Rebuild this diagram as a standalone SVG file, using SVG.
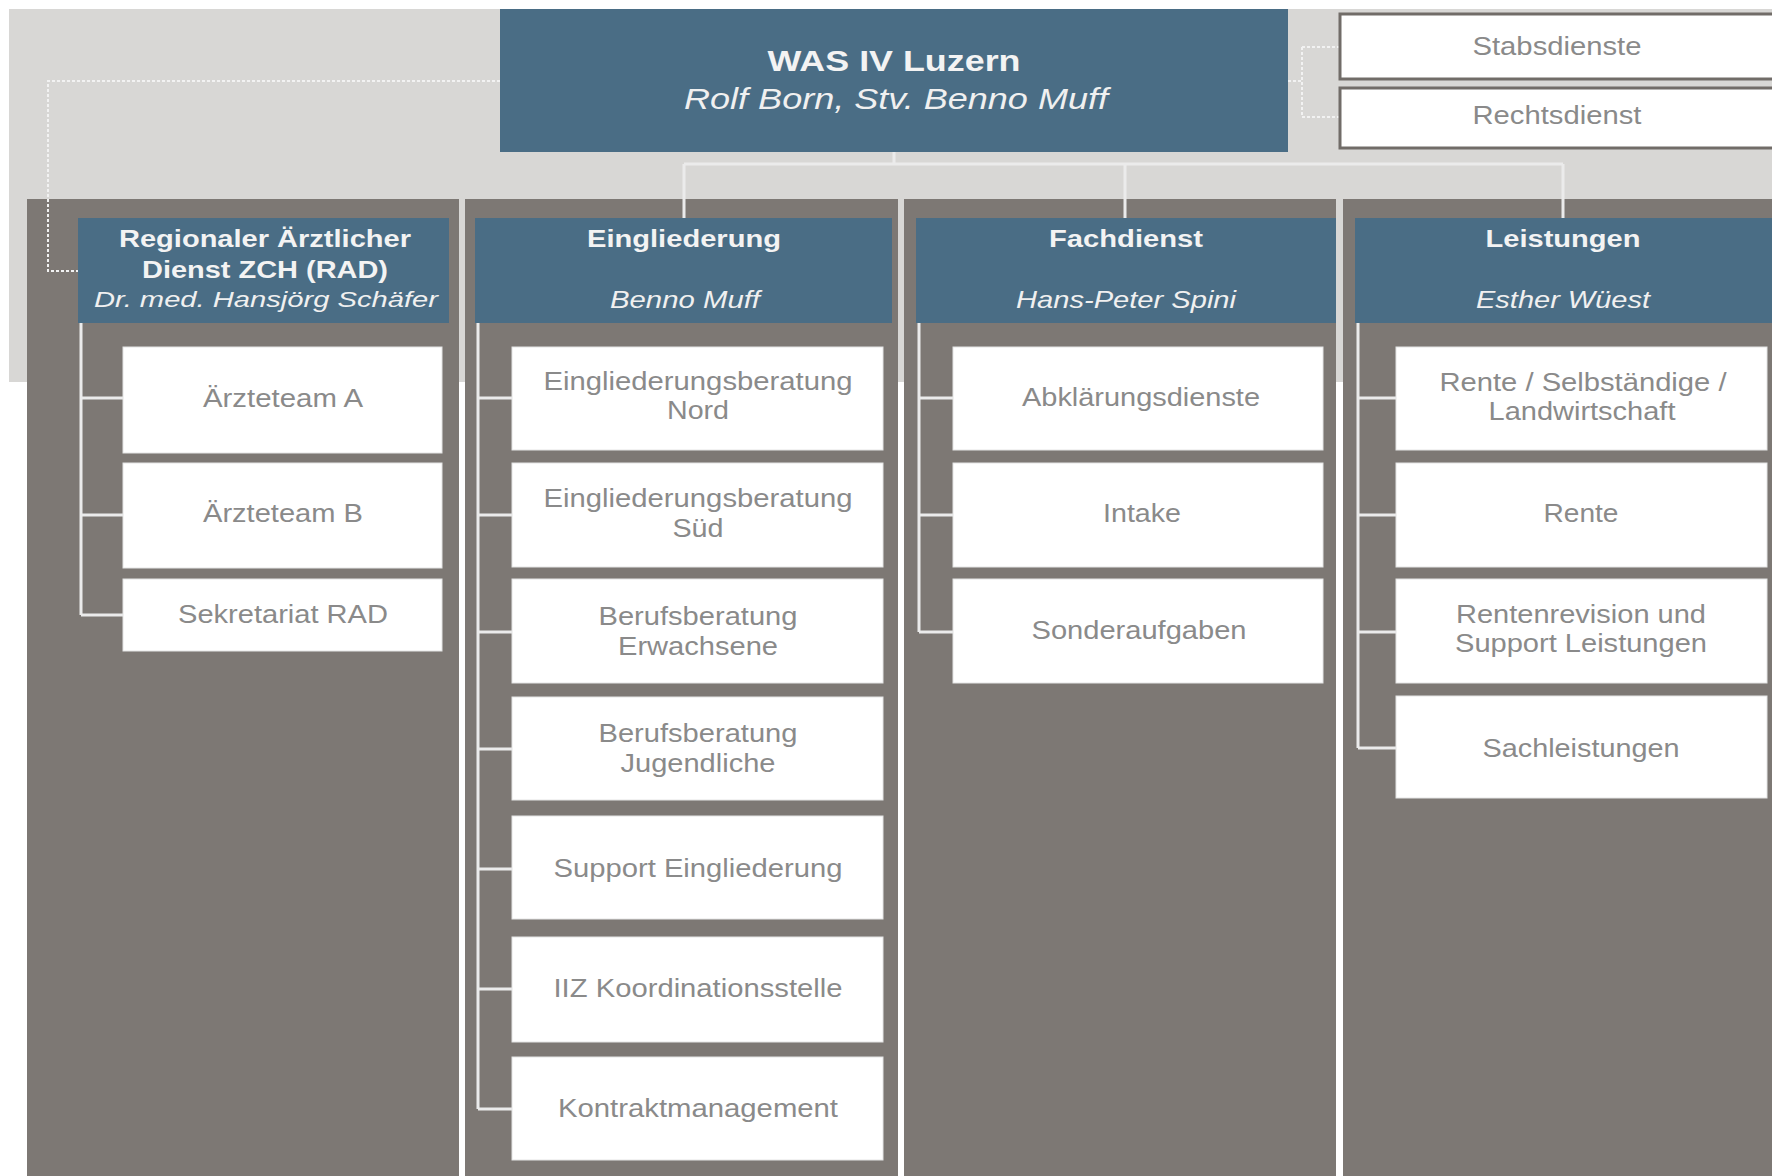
<svg xmlns="http://www.w3.org/2000/svg" width="1772" height="1176" viewBox="0 0 1772 1176">
<style>
.bg{fill:#d8d7d5}
.col{fill:#7d7874}
.hdr{fill:#4a6d85}
.box{fill:#ffffff;stroke:#e4e4e4;stroke-width:1}
.sbox{fill:#ffffff;stroke:#716c68;stroke-width:3}
text{font-family:"Liberation Sans",Arial,sans-serif;text-anchor:middle}
.t{font-size:25px;fill:#8a8a8a}
.h{font-size:24px;font-weight:bold;fill:#f3f3f3}
.hi{font-size:24px;font-style:italic;fill:#f0f0f0}
.ln{stroke:#ebebeb;stroke-width:3;fill:none}
.dot{stroke:#f2f2f2;stroke-width:2;stroke-dasharray:3 2;fill:none}
</style>
<rect x="0" y="0" width="1772" height="1176" fill="#ffffff"/>
<rect class="bg" x="9" y="9" width="1763" height="373"/>
<g id="columns">
<rect class="col" x="27" y="199" width="432" height="977"/>
<rect class="col" x="465" y="199" width="433" height="977"/>
<rect class="col" x="904" y="199" width="432" height="977"/>
<rect class="col" x="1343" y="199" width="429" height="977"/>
</g>
<g id="connectors">
<path class="ln" d="M894 152 V164 M684 164 H1563 M684 164 V218 M1125 164 V218 M1563 164 V218"/>
<path class="dot" d="M500 81 H48 V271 H78"/>
<path class="dot" d="M1288 81 H1302 M1302 47 V117 M1302 47 H1339 M1302 117 H1339"/>
<path class="ln" d="M81 323 V615 M81 398 H123 M81 515 H123 M81 615 H123"/>
<path class="ln" d="M478 323 V1109 M478 398 H512 M478 515 H512 M478 632 H512 M478 749 H512 M478 869 H512 M478 989 H512 M478 1109 H512"/>
<path class="ln" d="M919 323 V632 M919 398 H953 M919 515 H953 M919 632 H953"/>
<path class="ln" d="M1358 323 V748 M1358 398 H1396 M1358 515 H1396 M1358 632 H1396 M1358 748 H1396"/>
</g>
<g id="was-iv-luzern">
<rect class="hdr" x="500" y="9" width="788" height="143"/>
<text class="h" x="894" y="71" style="font-size:30px" textLength="253" lengthAdjust="spacingAndGlyphs">WAS IV Luzern</text>
<text class="hi" x="896" y="109" style="font-size:30px" textLength="424" lengthAdjust="spacingAndGlyphs">Rolf Born, Stv. Benno Muff</text>
</g>
<g id="stabsdienste">
<rect class="sbox" x="1340" y="14" width="440" height="65"/>
<text class="t" x="1557" y="55" textLength="169" lengthAdjust="spacingAndGlyphs">Stabsdienste</text>
</g>
<g id="rechtsdienst">
<rect class="sbox" x="1340" y="88" width="440" height="60"/>
<text class="t" x="1557" y="124" textLength="169" lengthAdjust="spacingAndGlyphs">Rechtsdienst</text>
</g>
<g id="rad">
<rect class="hdr" x="78" y="218" width="371" height="105"/>
<text class="h" x="265" y="247" textLength="292" lengthAdjust="spacingAndGlyphs">Regionaler Ärztlicher</text>
<text class="h" x="265" y="278" textLength="246" lengthAdjust="spacingAndGlyphs">Dienst ZCH (RAD)</text>
<text class="hi" x="266" y="307" style="font-size:22px" textLength="344" lengthAdjust="spacingAndGlyphs">Dr. med. Hansjörg Schäfer</text>
</g>
<g id="eingliederung">
<rect class="hdr" x="475" y="218" width="417" height="105"/>
<text class="h" x="684" y="247" textLength="194" lengthAdjust="spacingAndGlyphs">Eingliederung</text>
<text class="hi" x="685" y="308" textLength="150" lengthAdjust="spacingAndGlyphs">Benno Muff</text>
</g>
<g id="fachdienst">
<rect class="hdr" x="916" y="218" width="420" height="105"/>
<text class="h" x="1126" y="247" textLength="154" lengthAdjust="spacingAndGlyphs">Fachdienst</text>
<text class="hi" x="1126" y="308" textLength="220" lengthAdjust="spacingAndGlyphs">Hans-Peter Spini</text>
</g>
<g id="leistungen">
<rect class="hdr" x="1355" y="218" width="417" height="105"/>
<text class="h" x="1563" y="247" textLength="155" lengthAdjust="spacingAndGlyphs">Leistungen</text>
<text class="hi" x="1563" y="308" textLength="174" lengthAdjust="spacingAndGlyphs">Esther Wüest</text>
</g>
<g id="aerzteteam-a"><rect class="box" x="123" y="347" width="319" height="106"/><text class="t" x="283" y="407" textLength="160" lengthAdjust="spacingAndGlyphs">Ärzteteam A</text></g>
<g id="aerzteteam-b"><rect class="box" x="123" y="463" width="319" height="105"/><text class="t" x="283" y="522" textLength="160" lengthAdjust="spacingAndGlyphs">Ärzteteam B</text></g>
<g id="sekretariat-rad"><rect class="box" x="123" y="579" width="319" height="72"/><text class="t" x="283" y="623" textLength="210" lengthAdjust="spacingAndGlyphs">Sekretariat RAD</text></g>
<g id="eb-nord"><rect class="box" x="512" y="347" width="371" height="103"/><text class="t" x="698" y="390" textLength="309" lengthAdjust="spacingAndGlyphs">Eingliederungsberatung</text><text class="t" x="698" y="419" textLength="62" lengthAdjust="spacingAndGlyphs">Nord</text></g>
<g id="eb-sued"><rect class="box" x="512" y="463" width="371" height="104"/><text class="t" x="698" y="507" textLength="309" lengthAdjust="spacingAndGlyphs">Eingliederungsberatung</text><text class="t" x="698" y="537" textLength="51" lengthAdjust="spacingAndGlyphs">Süd</text></g>
<g id="bb-erwachsene"><rect class="box" x="512" y="579" width="371" height="104"/><text class="t" x="698" y="625" textLength="199" lengthAdjust="spacingAndGlyphs">Berufsberatung</text><text class="t" x="698" y="655" textLength="160" lengthAdjust="spacingAndGlyphs">Erwachsene</text></g>
<g id="bb-jugendliche"><rect class="box" x="512" y="697" width="371" height="103"/><text class="t" x="698" y="742" textLength="199" lengthAdjust="spacingAndGlyphs">Berufsberatung</text><text class="t" x="698" y="772" textLength="155" lengthAdjust="spacingAndGlyphs">Jugendliche</text></g>
<g id="support-eingliederung"><rect class="box" x="512" y="816" width="371" height="103"/><text class="t" x="698" y="877" textLength="289" lengthAdjust="spacingAndGlyphs">Support Eingliederung</text></g>
<g id="iiz"><rect class="box" x="512" y="937" width="371" height="105"/><text class="t" x="698" y="997" textLength="289" lengthAdjust="spacingAndGlyphs">IIZ Koordinationsstelle</text></g>
<g id="kontraktmanagement"><rect class="box" x="512" y="1057" width="371" height="103"/><text class="t" x="698" y="1117" textLength="280" lengthAdjust="spacingAndGlyphs">Kontraktmanagement</text></g>
<g id="abklaerungsdienste"><rect class="box" x="953" y="347" width="370" height="103"/><text class="t" x="1141" y="406" textLength="238" lengthAdjust="spacingAndGlyphs">Abklärungsdienste</text></g>
<g id="intake"><rect class="box" x="953" y="463" width="370" height="104"/><text class="t" x="1142" y="522" textLength="78" lengthAdjust="spacingAndGlyphs">Intake</text></g>
<g id="sonderaufgaben"><rect class="box" x="953" y="579" width="370" height="104"/><text class="t" x="1139" y="639" textLength="215" lengthAdjust="spacingAndGlyphs">Sonderaufgaben</text></g>
<g id="rente-selbstaendige"><rect class="box" x="1396" y="347" width="371" height="103"/><text class="t" x="1583" y="391" textLength="287" lengthAdjust="spacingAndGlyphs">Rente / Selbständige /</text><text class="t" x="1582" y="420" textLength="187" lengthAdjust="spacingAndGlyphs">Landwirtschaft</text></g>
<g id="rente"><rect class="box" x="1396" y="463" width="371" height="104"/><text class="t" x="1581" y="522" textLength="75" lengthAdjust="spacingAndGlyphs">Rente</text></g>
<g id="rentenrevision"><rect class="box" x="1396" y="579" width="371" height="104"/><text class="t" x="1581" y="623" textLength="250" lengthAdjust="spacingAndGlyphs">Rentenrevision und</text><text class="t" x="1581" y="652" textLength="252" lengthAdjust="spacingAndGlyphs">Support Leistungen</text></g>
<g id="sachleistungen"><rect class="box" x="1396" y="696" width="371" height="102"/><text class="t" x="1581" y="757" textLength="197" lengthAdjust="spacingAndGlyphs">Sachleistungen</text></g>
</svg>
